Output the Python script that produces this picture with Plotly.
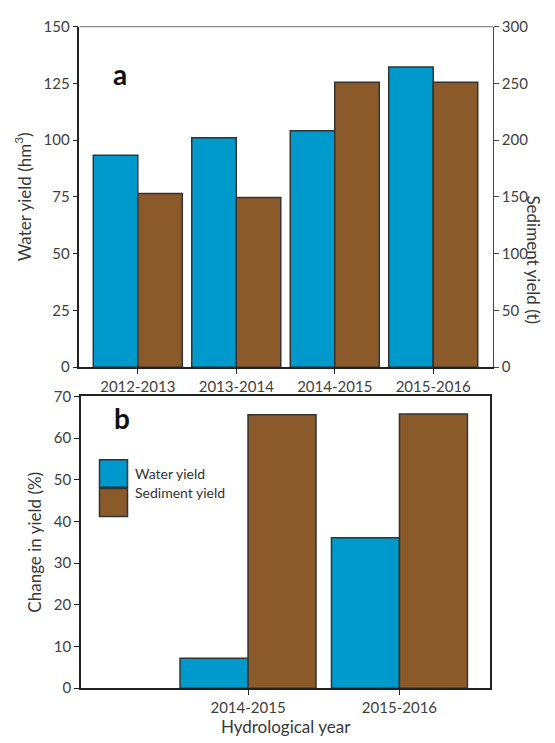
import plotly.graph_objects as go

# ---- data ----
years = ["2012-2013", "2013-2014", "2014-2015", "2015-2016"]
water_yield = [93.3, 101.0, 104.1, 132.2]          # hm3
sediment_yield = [153.0, 149.5, 251.0, 251.0]      # t
change_years = ["2014-2015", "2015-2016"]
water_change = [7.2, 36.1]                          # %
sediment_change = [65.6, 65.8]                      # %

BLUE = "#0099CC"
BROWN = "#8B5A2B"
EDGE = "#333333"
W, H = 555, 743
FONT = "Lato"


def X(px):
    return px / W


def Y(py):
    return 1 - py / H


fig = go.Figure()
bw = 0.452
fig.add_trace(go.Bar(x=years, y=water_yield, xaxis="x", yaxis="y", name="Water yield",
                     marker=dict(color=BLUE, line=dict(color=EDGE, width=1.5)),
                     offset=-bw, width=bw, showlegend=False))
fig.add_trace(go.Bar(x=years, y=sediment_yield, xaxis="x", yaxis="y2", name="Sediment yield",
                     marker=dict(color=BROWN, line=dict(color=EDGE, width=1.5)),
                     offset=0, width=bw, showlegend=False))
bw2 = 0.449
fig.add_trace(go.Bar(x=change_years, y=water_change, xaxis="x2", yaxis="y3", name="Water yield",
                     marker=dict(color=BLUE, line=dict(color=EDGE, width=1.5)),
                     offset=-bw2, width=bw2, showlegend=False))
fig.add_trace(go.Bar(x=change_years, y=sediment_change, xaxis="x2", yaxis="y3", name="Sediment yield",
                     marker=dict(color=BROWN, line=dict(color=EDGE, width=1.5)),
                     offset=0, width=bw2, showlegend=False))

tickfont = dict(family=FONT, size=15, color="#404040")
titlefont = dict(family=FONT, size=17, color="#383838")

fig.update_layout(
    width=W, height=H,
    margin=dict(l=0, r=0, t=0, b=0),
    paper_bgcolor="white", plot_bgcolor="white",
    font=dict(family=FONT),
    barmode="overlay",
    xaxis=dict(domain=[X(79.4), X(492.7)], anchor="y", type="category",
               categoryorder="array", categoryarray=years,
               range=[-0.593, 3.604], showline=True, linecolor="#222", linewidth=1.5,
               ticks="outside", ticklen=5, tickcolor="#222", tickwidth=1.2,
               tickfont=tickfont, showgrid=False, zeroline=False),
    yaxis=dict(domain=[Y(366), Y(17)], anchor="x", range=[0, 150], dtick=25,
               showline=True, linecolor="#222", linewidth=1.5,
               ticks="outside", ticklen=5, tickcolor="#222", tickwidth=1.2,
               tickfont=tickfont, showgrid=False, zeroline=False,
               title=dict(text="Water yield (hm<sup>3</sup>)", font=titlefont, standoff=8)),
    yaxis2=dict(overlaying="y", side="right", anchor="x", range=[0, 300], dtick=50,
                showline=True, linecolor="#444", linewidth=1.2,
                ticks="outside", ticklen=5, tickcolor="#444", tickwidth=1.2,
                tickfont=tickfont, showgrid=False, zeroline=False),
    xaxis2=dict(domain=[X(81), X(490.3)], anchor="y3", type="category",
                categoryorder="array", categoryarray=change_years,
                range=[-1.103, 1.6], showline=True, linecolor="#222", linewidth=1.5,
                mirror=True,
                ticks="outside", ticklen=5, tickcolor="#222", tickwidth=1.2,
                tickfont=tickfont, showgrid=False, zeroline=False,
                title=dict(text="Hydrological year", font=titlefont, standoff=4)),
    yaxis3=dict(domain=[Y(695), Y(396)], anchor="x2", range=[0, 70], dtick=10,
                showline=True, linecolor="#222", linewidth=1.5, mirror=True,
                ticks="outside", ticklen=5, tickcolor="#222", tickwidth=1.2,
                tickfont=tickfont, showgrid=False, zeroline=False,
                title=dict(text="Change in yield (%)", font=titlefont, standoff=8)),
)

shapes = [
    # top border of panel a (grey)
    dict(type="line", xref="paper", yref="paper", x0=X(79.4), x1=X(492.7), y0=Y(17), y1=Y(17),
         line=dict(color="#888888", width=1.2)),
    # custom legend swatches
    dict(type="rect", xref="paper", yref="paper", x0=X(99.5), x1=X(127.5), y0=Y(489), y1=Y(461),
         fillcolor=BLUE, line=dict(color=EDGE, width=1.5)),
    dict(type="rect", xref="paper", yref="paper", x0=X(99.5), x1=X(127.5), y0=Y(519), y1=Y(490.5),
         fillcolor=BROWN, line=dict(color=EDGE, width=1.5)),
]
fig.update_layout(shapes=shapes)

annotations = [
    dict(text="<b>a</b>", x=X(111), y=Y(46), xref="paper", yref="paper", showarrow=False,
         font=dict(family=FONT, size=28, color="#111")),
    dict(text="<b>b</b>", x=X(111.5), y=Y(418), xref="paper", yref="paper", showarrow=False,
         font=dict(family=FONT, size=28, color="#111")),
    dict(text="Sediment yield (t)", x=X(546), y=Y(188), xref="paper", yref="paper",
         showarrow=False, textangle=90, font=titlefont),
    dict(text="Water yield", x=X(132.5), y=Y(475), xref="paper", yref="paper", xanchor="left",
         showarrow=False, font=dict(family=FONT, size=14, color="#333")),
    dict(text="Sediment yield", x=X(132.5), y=Y(505.5), xref="paper", yref="paper", xanchor="left",
         showarrow=False, font=dict(family=FONT, size=14, color="#333")),
]
fig.update_layout(annotations=annotations)

fig.write_html("out.html", config={"displayModeBar": False},
               post_script="document.body.style.margin='0';document.body.style.overflow='hidden';")
